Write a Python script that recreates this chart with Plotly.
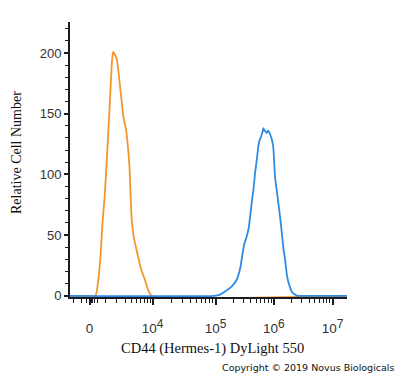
import numpy as np
import plotly.graph_objects as go

# ---- data (x in display units of the biexponential axis, y = cell count) ----
tick_labels = ["0", "10<sup>4</sup>", "10<sup>5</sup>", "10<sup>6</sup>", "10<sup>7</sup>"]
tick_pos = [0.0, 1.05, 2.10, 3.07, 4.05]

orange_x = [-0.33, 0.092, 0.108, 0.147, 0.187, 0.22, 0.25, 0.275, 0.308, 0.342, 0.37,
            0.392, 0.408, 0.453, 0.508, 0.563, 0.608, 0.647, 0.667, 0.703, 0.742,
            0.797, 0.858, 0.925, 0.975, 1.037, 4.30]
orange_y = [0, 0, 1, 13, 35, 63, 80, 100, 130, 162, 190,
            201, 200, 195, 173, 148, 137, 119, 105, 63, 47,
            35, 22, 13, 5, 0, 0]

blue_x = [-0.33, 2.075, 2.175, 2.258, 2.37, 2.45, 2.508, 2.542, 2.575, 2.62, 2.65,
          2.683, 2.708, 2.733, 2.758, 2.792, 2.813, 2.833, 2.858, 2.883, 2.897,
          2.917, 2.933, 2.953, 2.975, 2.992, 3.008, 3.037, 3.063, 3.092, 3.117,
          3.142, 3.175, 3.208, 3.233, 3.258, 3.292, 3.333, 3.375, 3.442, 3.475, 4.30]
blue_y = [0, 0, 1, 3.5, 7.7, 13, 22, 32, 42, 49, 55,
          68, 79, 88, 101, 114, 123, 128, 131, 135, 138,
          136, 135.5, 134, 136, 135, 133, 129, 122, 97, 88,
          78, 65, 50, 38, 30, 16, 8, 3, 0.5, 0, 0]

# bigger superscripts, as in the reference
tick_text = [t.replace("<sup>", "<sup><span style='font-size:12px'>").replace("</sup>", "</span></sup>")
             for t in tick_labels]

# ---- minor tick positions on the biexponential axis ----
def lin_region(v):
    c = 1400.0
    return tick_pos[1] * np.arcsinh(v / c) / np.arcsinh(1e4 / c)

minor = [float(lin_region(v)) for v in [-1000, -500, -200, 100, 200, 300, 500]]
minor += [float(lin_region(k * 1000)) for k in range(1, 10)]
for i in range(1, 4):
    for k in range(2, 10):
        minor.append(tick_pos[i] + np.log10(k) * (tick_pos[i + 1] - tick_pos[i]))

fig = go.Figure()
fig.add_trace(go.Scatter(x=orange_x, y=orange_y, mode="lines",
                         line=dict(color="#f3962e", width=1.8, shape="spline", smoothing=0.5),
                         hoverinfo="skip", showlegend=False))
fig.add_trace(go.Scatter(x=blue_x, y=blue_y, mode="lines",
                         line=dict(color="#2f8ae6", width=1.8, shape="spline", smoothing=0.4),
                         hoverinfo="skip", showlegend=False))

axis_col = "#1c1c24"
fig.update_layout(
    width=400, height=378,
    margin=dict(l=70, r=53, t=22, b=81, autoexpand=False),
    paper_bgcolor="white", plot_bgcolor="white",
    showlegend=False,
    xaxis=dict(
        range=[-0.325, 4.29], showgrid=False, zeroline=False, automargin=False,
        showline=True, linecolor=axis_col, linewidth=2,
        tickmode="array", tickvals=tick_pos, ticktext=tick_text,
        ticks="outside", ticklen=6, tickwidth=1.5, tickcolor=axis_col,
        tickfont=dict(family="Liberation Sans", size=13.5, color="#333333"),
        ticklabelstandoff=12,
        minor=dict(tickmode="array", tickvals=minor, ticks="outside",
                   ticklen=4, tickwidth=1.2, tickcolor=axis_col),
        layer="below traces",
    ),
    yaxis=dict(
        range=[-1, 225.5], showgrid=False, zeroline=False, automargin=False,
        showline=True, linecolor=axis_col, linewidth=2,
        tickmode="array", tickvals=[0, 50, 100, 150, 200],
        ticks="outside", ticklen=4, tickwidth=1.5, tickcolor=axis_col,
        tickfont=dict(family="Liberation Sans", size=13, color="#333333"),
        minor=dict(dtick=10, tick0=0, ticks="outside", ticklen=3,
                   tickwidth=1.2, tickcolor=axis_col),
        layer="below traces",
    ),
    annotations=[
        dict(text="Relative Cell Number", xref="paper", yref="paper",
             x=-0.191, y=0.524, textangle=-90, showarrow=False,
             xanchor="center", yanchor="middle",
             font=dict(family="Liberation Serif", size=14, color="#111111")),
        dict(text="CD44 (Hermes-1) DyLight 550", xref="paper", yref="paper",
             x=0.513, y=-0.189, showarrow=False, xanchor="center", yanchor="middle",
             font=dict(family="Liberation Serif", size=14.5, color="#111111")),
        dict(text="Copyright © 2019 Novus Biologicals", xref="paper", yref="paper",
             x=1.177, y=-0.258, showarrow=False, xanchor="right", yanchor="middle",
             font=dict(family="DejaVu Sans", size=9.5, color="#111111")),
    ],
)

fig.write_html("out.html", config={"displayModeBar": False},
               post_script="document.body.style.margin='0';document.body.style.overflow='hidden';")
